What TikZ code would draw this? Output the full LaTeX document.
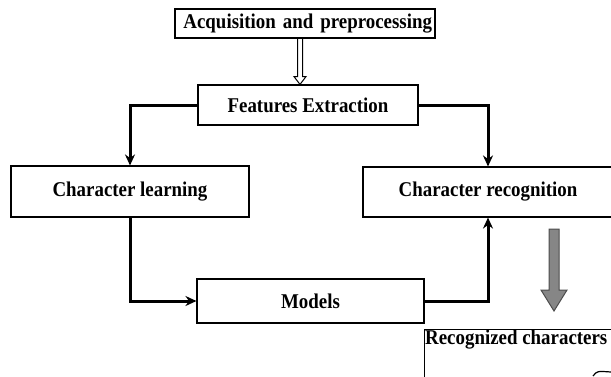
\documentclass[tikz,border=0pt]{standalone}
\usepackage{fontspec}
\setmainfont{Liberation Serif}[FakeStretch=0.9]
\usetikzlibrary{positioning,arrows.meta,calc}

\begin{document}
\begin{tikzpicture}[x=1pt, y=-1pt]
    \tikzset{
        boxstyle/.style={draw, line width=1.1pt, inner sep=2pt,
            font=\fontsize{21}{23}\selectfont\bfseries},
        linkstyle/.style={line width=3pt, -{Stealth[length=11pt,width=10pt]}}
    }
    \useasboundingbox (0,0) rectangle (611,376);

    \node[boxstyle, minimum width=260, minimum height=29, text width=254, align=right] (acq) at (305,23.5) {Acquisition and preprocessing};
    \node[boxstyle, minimum width=220, minimum height=40] (feat) at (308,105) {Features Extraction};
    \node[boxstyle, minimum width=238, minimum height=51] (learn) at (130,191.5) {Character learning};
    \node[boxstyle, minimum width=250, minimum height=50] (recog) at (488,192) {Character recognition};
    \node[boxstyle, minimum width=227, minimum height=44] (models) at (310.5,301) {Models};
    \node[boxstyle, anchor=north west, minimum width=220, minimum height=80,
        label={[font=\fontsize{21}{23}\selectfont\bfseries, anchor=north west, inner sep=1pt]north west:Recognized characters}] (out) at (424,329) {};

    % hollow arrow
    \coordinate (h) at ($(acq.south)+(-5,0)$);
    \draw[line width=1pt] ($(h)+(-2.5,0)$) -- ($(h)+(-2.5,38)$) -- ($(h)+(-6,38)$)
        -- (h |- feat.north) -- ($(h)+(6,38)$) -- ($(h)+(2.5,38)$) -- ($(h)+(2.5,0)$);

    \draw[linkstyle] (feat.west) -| (learn.north);
    \draw[linkstyle] (feat.east) -| (recog.north);
    \draw[linkstyle] (learn.south) |- (models.west);
    \draw[linkstyle] (models.east) -| (recog.south);

    % gray arrow
    \draw[fill=gray!95, draw=black!70, line width=1pt]
        (549,229) -- (559,229) -- (559,290) -- (567,290) -- (554,311)
        -- (541,290) -- (549,290) -- cycle;

    \draw[line width=1.2pt] (593,376) .. controls (597,371) .. (611,372);
\end{tikzpicture}
\end{document}
